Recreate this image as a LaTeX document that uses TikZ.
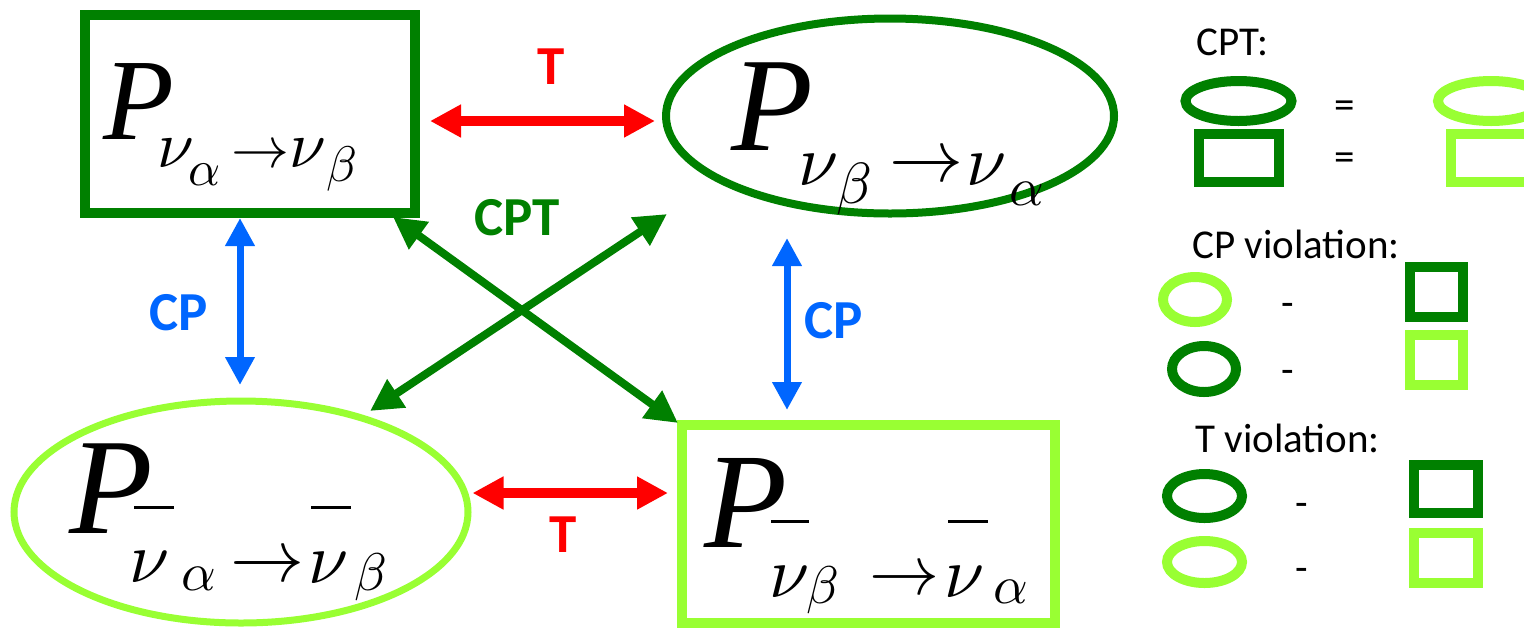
\documentclass[tikz,border=0pt]{standalone}
\usepackage{fontspec}
\setmainfont{Liberation Serif}
\newfontfamily\sansf{Carlito}
\usetikzlibrary{shapes.geometric,arrows.meta,calc}
\definecolor{dg}{HTML}{008000}
\definecolor{lg}{HTML}{99FF33}
\definecolor{rd}{HTML}{FF0000}
\definecolor{bl}{HTML}{0066FF}
\newcommand\gl[4]{\rlap{\hspace*{#1pt}\raisebox{#2pt}{\fontsize{#3pt}{#3pt}\selectfont #4}}}
\newcommand\gm[4]{\rlap{\hspace*{#1pt}\raisebox{#2pt}{\scalebox{#3}{$#4$}}}}
\newcommand\barline[2]{\rlap{\hspace*{#1pt}\raisebox{12pt}{\rule{#2pt}{1.6pt}}}}
\tikzset{
  lbl/.style={anchor=base west, inner sep=0pt, outer sep=0pt},
  rectn/.style={draw, inner sep=0pt},
  elln/.style={ellipse, draw, inner sep=0pt},
  tiparr/.style={{Triangle[length=#1,width=#1]}-{Triangle[length=#1,width=#1]}},
  tarrow/.style={tiparr=15.5pt, draw=rd, line width=5pt},
  cparrow/.style={tiparr=14pt, draw=bl, line width=3.5pt},
  cptarrow/.style={tiparr=16pt, draw=dg, line width=4pt},
  biglab/.style={anchor=base, inner sep=0pt, font=\sansf\bfseries\fontsize{27.5pt}{28pt}\selectfont},
  leglab/.style={anchor=base, inner sep=0pt, font=\sansf\fontsize{20.5pt}{21pt}\selectfont},
  legsym/.style={inner sep=0pt, font=\sansf\fontsize{20.5pt}{21pt}\selectfont},
}
\begin{document}
\begin{tikzpicture}[x=0.5pt,y=-0.5pt]
\useasboundingbox (0,0) rectangle (1524,628);
% main shapes
\node[rectn, draw=dg, line width=5pt, minimum width=165pt, minimum height=99pt] (b1) at (250,114) {};
\node[elln, draw=dg, line width=4pt, minimum width=224pt, minimum height=97.5pt] (e1) at (890,116) {};
\node[elln, draw=lg, line width=3.5pt, minimum width=227pt, minimum height=111pt] (e2) at (241,512) {};
\node[rectn, draw=lg, line width=5pt, minimum width=186.5pt, minimum height=99pt] (b2) at (868.5,524) {};
% formulas
\node[lbl] (l1) at (102,139) {\gl{0}{0}{58}{\itshape P}\gm{27.5}{-14}{3.3}{\nu}\gm{43}{-23}{2.5}{\alpha}\gm{64}{-14}{2.9}{\rightarrow}\gm{93}{-14}{3.3}{\nu}\gm{111.5}{-21}{2.5}{\beta}};
\node[lbl] (l2) at (730,150) {\gl{0}{0}{67}{\itshape P}\gm{33.5}{-17.5}{3.6}{\nu}\gm{52.5}{-26.5}{2.9}{\beta}\gm{79}{-15.75}{3.7}{\rightarrow}\gm{117.5}{-17.5}{3.6}{\nu}\gm{139}{-27.5}{2.7}{\alpha}};
\node[lbl] (l3) at (68,533) {\gl{0}{0}{68.5}{\itshape P}\barline{32.5}{20}\barline{121}{20}\gm{30}{-24.5}{3.6}{\nu}\gm{56}{-28.5}{2.7}{\alpha}\gm{81}{-24.25}{3.7}{\rightarrow}\gm{119.5}{-25}{3.6}{\nu}\gm{142.5}{-28.5}{2.65}{\beta}};
\node[lbl] (l4) at (703,547) {\gl{0}{0}{68}{\itshape P}\barline{33.5}{19}\barline{122}{20}\gm{32.5}{-25}{3.6}{\nu}\gm{51}{-28}{2.65}{\beta}\gm{82.5}{-23.75}{3.5}{\rightarrow}\gm{120}{-25}{3.6}{\nu}\gm{144.5}{-28}{2.7}{\alpha}};
% connectors
\draw[tarrow] ($(b1.east)+(10,7)$) -- ($(e1.west)+(-7,5)$);
\draw[tarrow] ($(e2.east)+(1,-19)$) -- ($(b2.west)+(-9,-31)$);
\draw[cparrow] ($(b1.south)+(-10,0)$) -- ($(e2.north)+(-1,-12.5)$);
\draw[cparrow] ($(e1.south)+(-103,20.5)$) -- ($(b2.north)+(-81.5,-10)$);
\draw[cptarrow] ($(b1.south east)+(-27,-1)$) -- ($(b2.north west)+(1,3)$);
\draw[cptarrow] ($(e1.center)+(-223,98)$) -- ($(e2.center)+(129,-101)$);
% labels
\node[biglab, text=rd] (tt) at (551.5,84) {T};
\node[biglab, text=rd] (tb) at (563,552) {T};
\node[biglab, text=dg] (cpt) at (517,235) {CPT};
\node[biglab, text=bl] (cpl) at (179,330) {CP};
\node[biglab, text=bl] (cpr) at (834,338) {CP};
% legend
\node[leglab] (h1) at (1232.5,55) {CPT:};
\node[elln, draw=dg, line width=5pt, minimum width=53pt, minimum height=20pt] (a1) at (1238.5,101) {};
\node[legsym] (q1) at (1345,109.5) {=};
\node[elln, draw=lg, line width=5pt, minimum width=53pt, minimum height=20pt] (a2) at (1491,101) {};
\node[rectn, draw=dg, line width=5pt, minimum width=40pt, minimum height=24pt] (a3) at (1238.5,158) {};
\node[rectn, draw=lg, line width=5pt, minimum width=40pt, minimum height=24pt] (a4) at (1491,158) {};
\node[legsym] (q2) at (1345,161.5) {=};
\node[leglab] (h2) at (1296,258) {CP violation:};
\node[elln, draw=lg, line width=5pt, minimum width=32pt, minimum height=22.5pt] (c1) at (1195,299.5) {};
\node[legsym] (m1) at (1288,310) {-};
\node[rectn, draw=dg, line width=5pt, minimum width=26.5pt, minimum height=25pt] (c2) at (1436.5,292) {};
\node[elln, draw=dg, line width=5pt, minimum width=32pt, minimum height=23pt] (c3) at (1204,369) {};
\node[legsym] (m2) at (1288,377) {-};
\node[rectn, draw=lg, line width=5pt, minimum width=26.5pt, minimum height=25pt] (c4) at (1436.5,360) {};
\node[leglab] (h3) at (1287.5,452) {T violation:};
\node[elln, draw=dg, line width=5pt, minimum width=37.5pt, minimum height=22pt] (d1) at (1204.5,496) {};
\node[legsym] (m3) at (1302,510) {-};
\node[rectn, draw=dg, line width=5pt, minimum width=32pt, minimum height=24pt] (d2) at (1446,489) {};
\node[elln, draw=lg, line width=5pt, minimum width=37.5pt, minimum height=21pt] (d3) at (1204.5,562) {};
\node[legsym] (m4) at (1302,575) {-};
\node[rectn, draw=lg, line width=5pt, minimum width=32pt, minimum height=25pt] (d4) at (1446,558) {};
\end{tikzpicture}
\end{document}
